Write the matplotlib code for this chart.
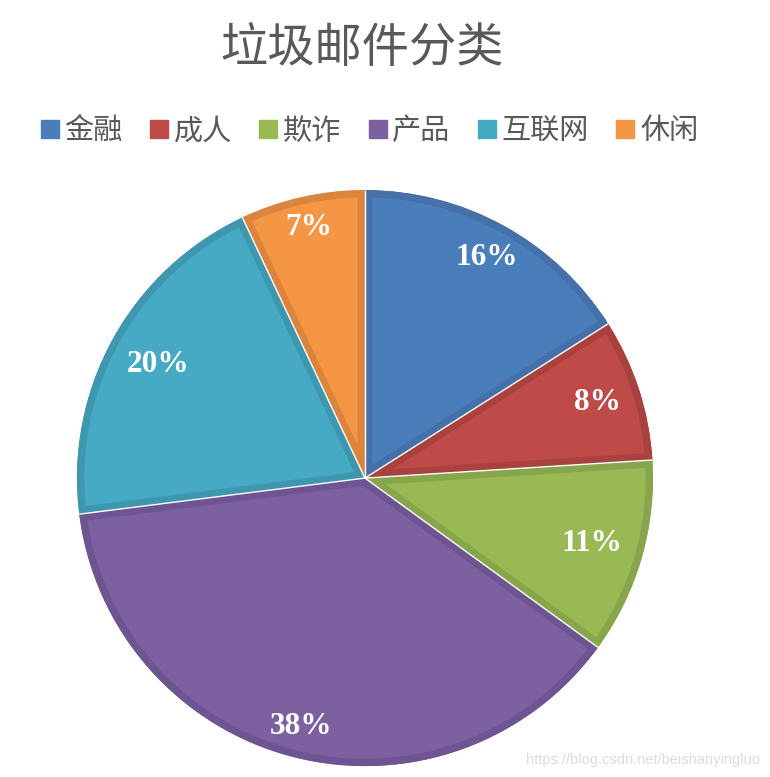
import numpy as np
import matplotlib.pyplot as plt
from matplotlib.patches import Wedge

plt.rcParams['font.family'] = ['Noto Sans CJK SC', 'DejaVu Sans']

# data
categories = ['金融', '成人', '欺诈', '产品', '互联网', '休闲']
shares = [16, 8, 11, 38, 20, 7]
fill_colors = ['#4A7EBB', '#BE4B48', '#98B954', '#7D60A0', '#46AAC5', '#F59645']
edge_colors = ['#4570A8', '#A9413F', '#87A54A', '#6E5490', '#3E97AF', '#DA843D']
# how far from centre each percent label sits (fraction of radius)
label_dist = [0.875, 0.85, 0.82, 0.89, 0.82, 0.89]

fig = plt.figure(figsize=(7.7, 7.77), dpi=100)
ax = fig.add_axes([0.098, 0.0122, 0.752, 0.745])

wedges, texts, autotexts = ax.pie(
    shares, colors=fill_colors, startangle=90, counterclock=False,
    radius=1, autopct='%1.0f%%', pctdistance=0.86,
    wedgeprops=dict(linewidth=0),
    textprops=dict(color='white', fontsize=22.5, fontweight='bold',
                   family='Liberation Serif'))

# inner border: thick edge clipped to each wedge
for w, ec in zip(wedges, edge_colors):
    b = Wedge(w.center, w.r, w.theta1, w.theta2, facecolor='none',
              edgecolor=ec, linewidth=10.5, joinstyle='round')
    ax.add_patch(b)
    b.set_clip_path(w)

# thin white seams along the slice boundaries
for w in wedges:
    a = np.deg2rad(w.theta1)
    ax.plot([0, np.cos(a)], [0, np.sin(a)], color='white', lw=1.0,
            solid_capstyle='butt')

# move percent labels
for w, t, d in zip(wedges, autotexts, label_dist):
    a = np.deg2rad((w.theta1 + w.theta2) / 2)
    t.set_position((d * np.cos(a), d * np.sin(a)))

ax.set_xlim(-1.005, 1.005)
ax.set_ylim(-1.005, 1.005)
ax.set_aspect('equal')
ax.axis('off')

fig.text(0.47, 0.937, '垃圾邮件分类', ha='center', va='center',
         fontsize=34, color='#595959')

handles = [plt.Line2D([], [], marker='s', linestyle='none', markersize=13,
                      markerfacecolor=c, markeredgecolor=c)
           for c in fill_colors]
leg = fig.legend(handles, categories, loc='center', bbox_to_anchor=(0.48, 0.831),
                 ncol=6, frameon=False, fontsize=21, handlelength=0.6,
                 handletextpad=0.2, columnspacing=0.95)
for t in leg.get_texts():
    t.set_color('#595959')

fig.text(0.987, 0.022, 'https://blog.csdn.net/beishanyingluo', ha='right',
         va='center', fontsize=10.5, color='#DCDCDC', family='Liberation Sans')

fig.savefig('out.png', dpi=100)
